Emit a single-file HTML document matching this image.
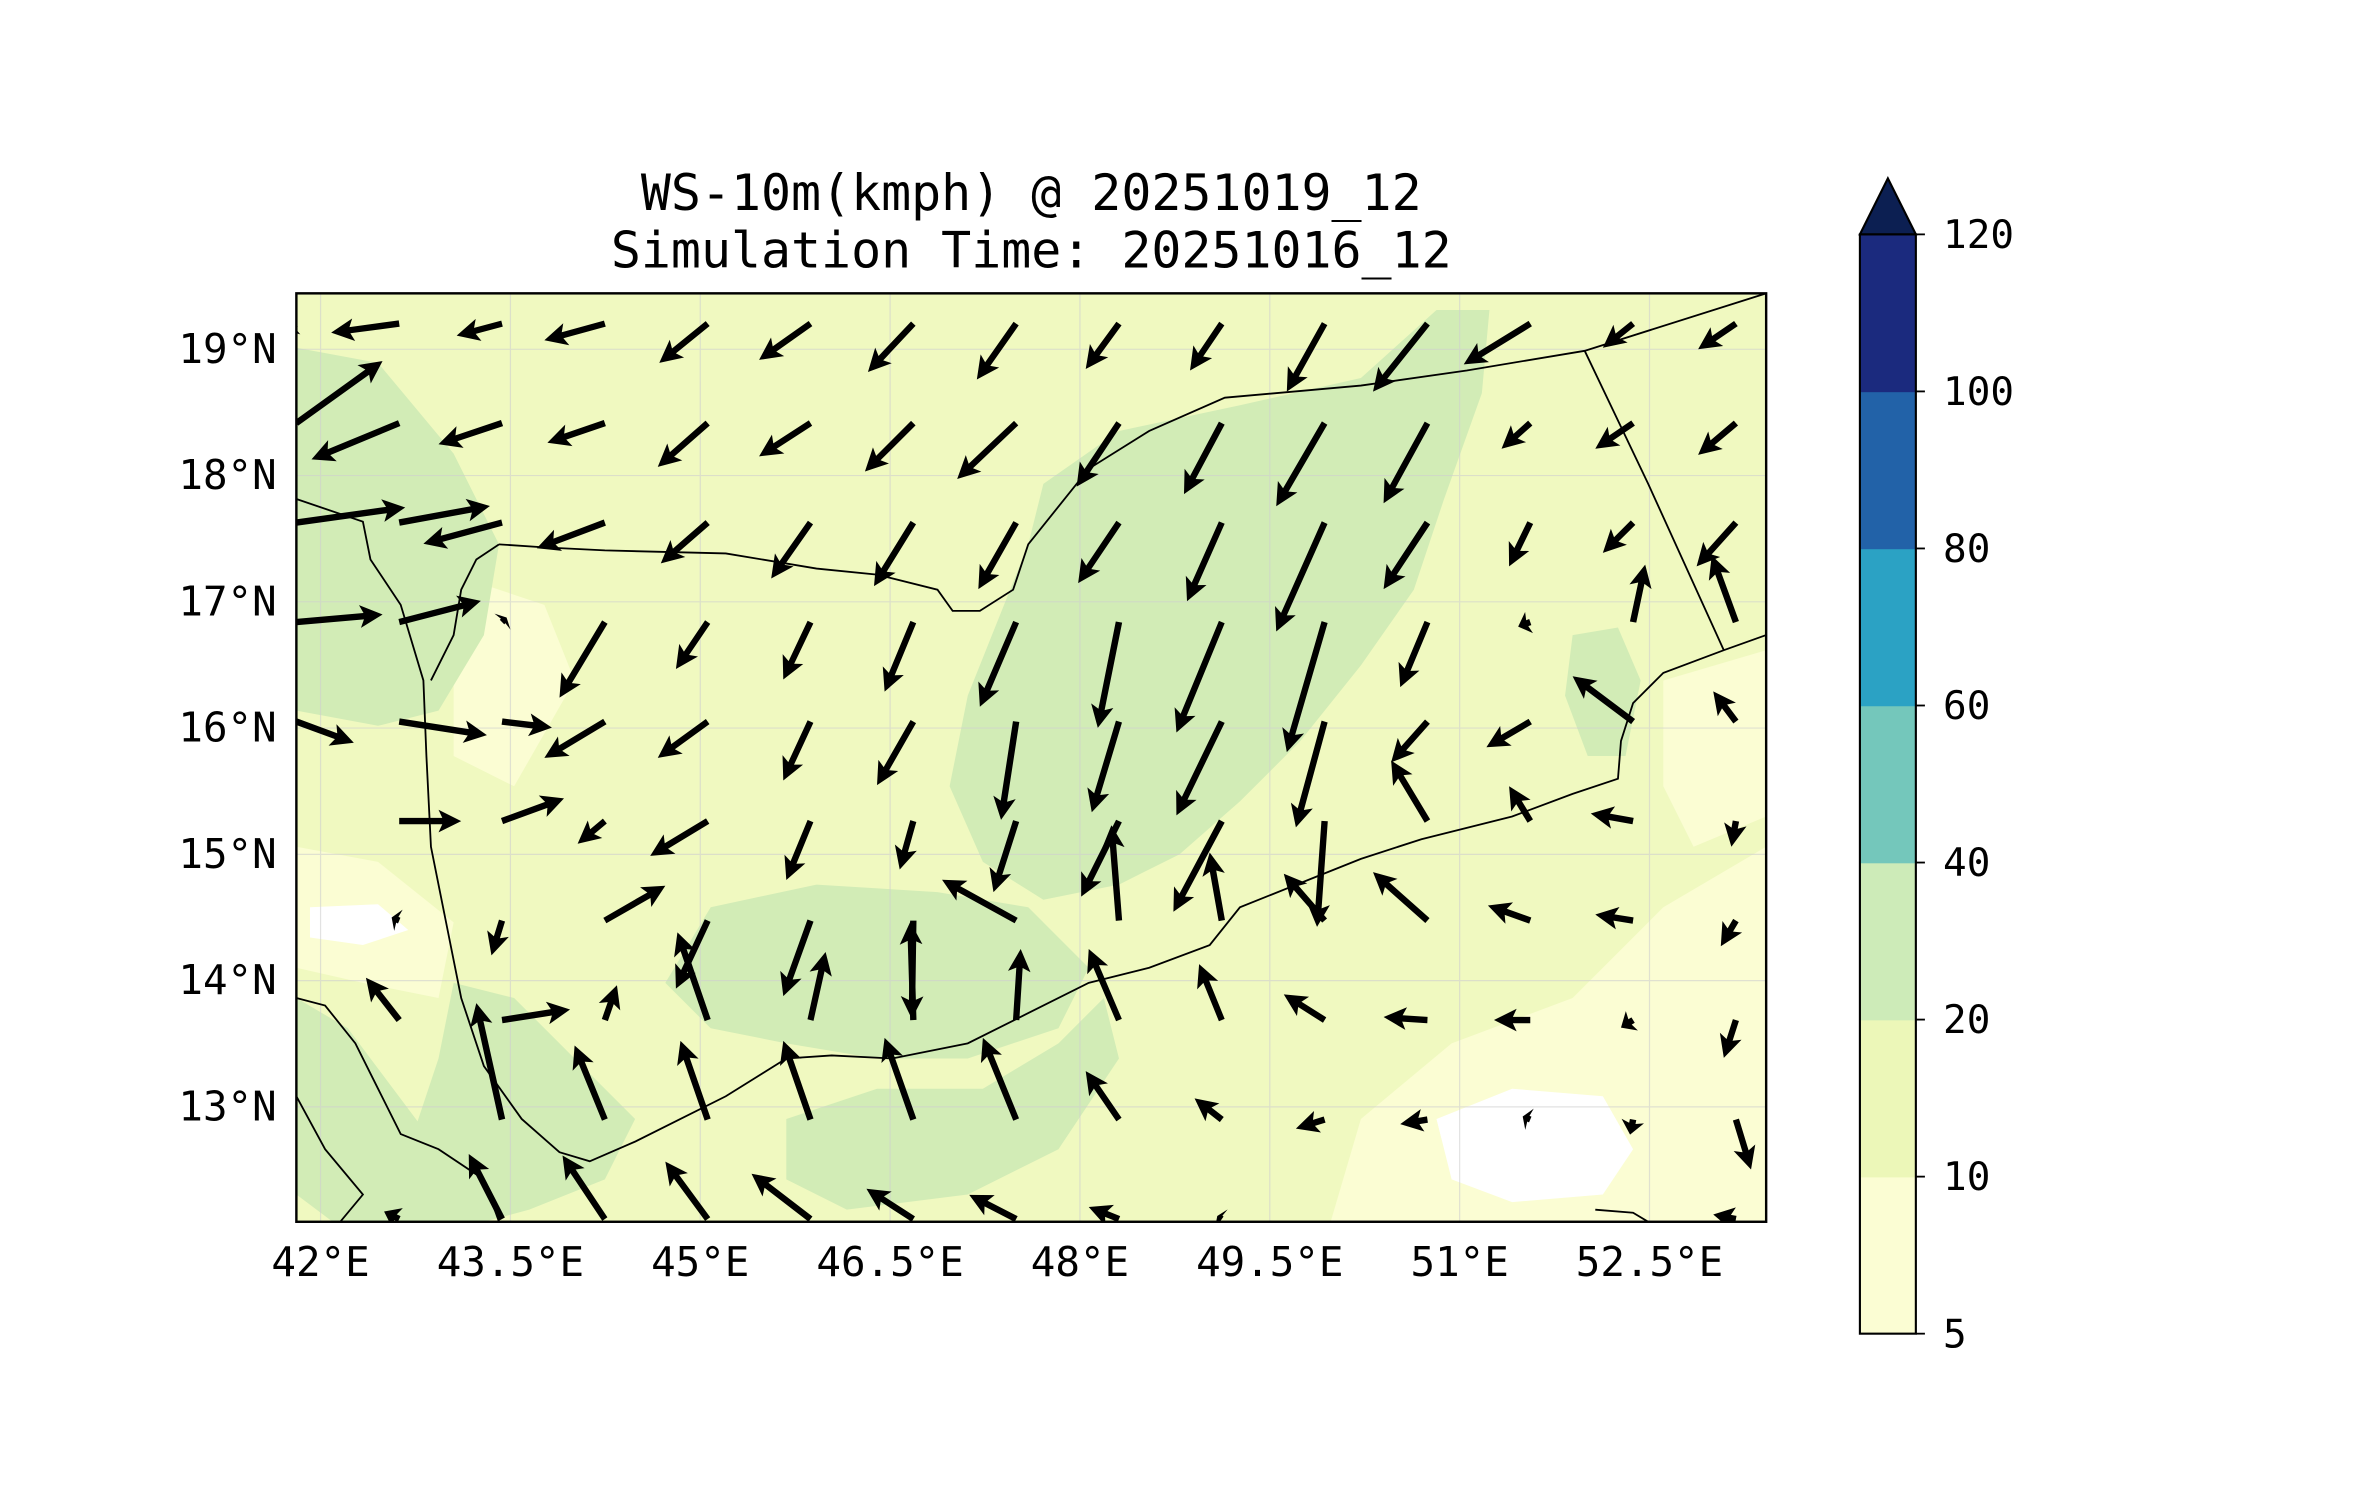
<!DOCTYPE html>
<html><head><meta charset="utf-8">
<style>
html,body{margin:0;padding:0;background:#fff;}
svg{display:block;}
text{font-family:"DejaVu Sans Mono","Liberation Mono",monospace;fill:#000;}
</style></head>
<body>
<svg id="chart" width="2371" height="1500" viewBox="0 0 1568 992" preserveAspectRatio="none" xmlns="http://www.w3.org/2000/svg">
<defs><clipPath id="mapclip"><rect x="196" y="194" width="972" height="614"/></clipPath></defs>
<text x="682" y="139" font-size="33" text-anchor="middle">WS-10m(kmph) @ 20251019_12</text>
<text x="682" y="177" font-size="33" text-anchor="middle">Simulation Time: 20251016_12</text>

<g clip-path="url(#mapclip)">
<rect x="196" y="194" width="972" height="614" fill="#f0f9c0"/>
<path fill="#fbfdd3" d="M880,808 L900,740 L960,690 L1040,660 L1100,600 L1168,560 L1168,808 Z"/>
<path fill="#fbfdd3" d="M1100,450 L1168,430 L1168,540 L1120,560 L1100,520 Z"/>
<path fill="#fbfdd3" d="M196,560 L250,570 L300,610 L290,660 L240,650 L196,640 Z"/>
<path fill="#fbfdd3" d="M300,380 L360,400 L380,450 L340,520 L300,500 Z"/>
<path fill="#ffffff" d="M950,740 L1000,720 L1060,725 L1080,760 L1060,790 L1000,795 L960,780 Z"/>
<path fill="#ffffff" d="M205,600 L250,598 L270,615 L240,625 L205,620 Z"/>
<path fill="#d2ecb6" d="M690,320 L740,285 L820,268 L900,250 L950,205 L985,205 L980,260 L955,330 L935,390 L900,440 L860,490 L820,530 L780,565 L740,585 L690,595 L650,570 L628,520 L640,460 L660,410 L680,360 Z"/>
<path fill="#d2ecb6" d="M470,600 L540,585 L620,590 L680,600 L720,640 L700,680 L640,700 L580,700 L520,690 L470,680 L440,650 Z"/>
<path fill="#d2ecb6" d="M520,740 L580,720 L650,720 L700,690 L730,660 L740,700 L700,760 L640,790 L560,800 L520,780 Z"/>
<path fill="#d2ecb6" d="M300,650 L340,660 L380,700 L420,740 L400,780 L350,800 L320,808 L290,808 L270,760 L290,700 Z"/>
<path fill="#d2ecb6" d="M196,660 L230,680 L260,720 L290,760 L300,808 L220,808 L196,790 Z"/>
<path fill="#d2ecb6" d="M196,230 L250,240 L300,300 L330,360 L320,420 L290,470 L250,480 L196,470 Z"/>
<path fill="#d2ecb6" d="M1040,420 L1070,415 L1085,450 L1075,500 L1050,500 L1035,460 Z"/>
<g id="gridlines" stroke="#cfcfcf" stroke-width="0.8" opacity="0.6"></g>
<g fill="none" stroke="#000" stroke-width="1.2">
<path d="M330,360 L360,362 L400,364 L480,366 L540,376 L580,380 L620,390 L630,404 L648,404 L670,390 L680,360 L720,310 L760,285 L810,263 L900,255 L970,245 L1048,232 L1168,194"/>
<path d="M1048,232 L1090,320 L1140,430"/>
<path d="M1168,420 L1140,430 L1100,445 L1080,465 L1072,490 L1070,515 L1040,525 L1000,540 L940,555 L900,568 L870,580 L820,600 L800,625 L760,640 L720,650 L680,670 L640,690 L590,700 L550,698 L520,700 L480,725 L450,740 L420,755 L390,768 L370,762 L345,740 L320,705 L305,660 L295,610 L285,560 L282,500 L280,450 L265,400 L245,370 L240,345 L196,330"/>
<path d="M196,660 L215,665 L235,690 L250,720 L265,750 L290,760 L320,780 L330,808"/>
<path d="M196,725 L215,760 L240,790 L225,808"/>
<path d="M330,360 L315,370 L305,390 L300,420 L285,450"/>
<path d="M1055,800 L1080,802 L1090,808"/>
</g>
<g id="quiver"></g>
</g>
<rect x="196" y="194" width="972" height="614" fill="none" stroke="#000" stroke-width="1.6"/>
<g id="axes"></g>
<g id="colorbar"></g>
</svg>
<script>
const NS='http://www.w3.org/2000/svg';
const svg=document.getElementById('chart');
const lonTicks=[42,43.5,45,46.5,48,49.5,51,52.5];
const lonTickLabels=['42°E','43.5°E','45°E','46.5°E','48°E','49.5°E','51°E','52.5°E'];
const latTicks=[13,14,15,16,17,18,19];
const latTickLabels=['13°N','14°N','15°N','16°N','17°N','18°N','19°N'];
const cbLevels=[5,10,20,40,60,80,100,120];
const cbColors=['#fbfdd3','#ecf7b8','#cdebb8','#74c7bb','#2ba2c4','#2262a8','#1b2a7e'];
const cbExtendColor='#0c1f52';
const U=[
[-8,-45,-30,-40,-32,-34,-30,-26,-22,-21,-25,-36,-44,-20,-25],
[57,-58,-42,-38,-33,-34,-32,-39,-28,-25,-32,-29,-19,-25,-25],
[72,60,-52,-45,-31,-26,-26,-25,-27,-23,-32,-29,-14,-20,-26],
[57,54,3,-30,-21,-18,-19,-24,-14,-30,-25,-18,-8,8,-16],
[38,58,33,-40,-33,-18,-24,-10,-18,-30,-19,-24,-29,-40,-15],
[-3,41,41,-18,-38,-16,-9,-15,-25,-32,-5,-24,-14,-28,-3],
[0,-5,-7,40,-21,-18,-1,-49,-5,-8,-27,-36,-28,-25,-10],
[0,-22,45,8,-20,10,-2,3,-20,-15,-27,-29,-24,-8,-8],
[-68,0,-17,-20,-18,-18,-19,-22,-22,-18,-19,-18,-5,-2,10],
[0,-10,-22,-28,-28,-39,-31,-31,-20,-3,0,0,0,0,-15]];
const V=[
[-4,-6,-8,-11,-26,-24,-32,-37,-30,-31,-45,-45,-27,-16,-17],
[41,-24,-14,-13,-29,-22,-32,-37,-42,-47,-55,-53,-17,-17,-21],
[10,11,-14,-17,-27,-37,-42,-44,-40,-52,-72,-44,-29,-20,-29],
[5,14,3,-50,-31,-38,-46,-56,-70,-73,-86,-43,-3,38,44],
[-14,-9,-4,-24,-24,-39,-42,-65,-60,-62,-70,-27,-17,30,20],
[0,0,15,-15,-23,-39,-32,-47,-50,-60,-70,40,23,5,-17],
[0,2,-23,23,-45,-50,-65,27,63,45,31,32,10,4,-17],
[0,28,7,23,58,45,65,47,47,37,17,2,0,-5,-25],
[0,0,77,49,52,52,54,54,32,14,-6,-3,2,-10,-33],
[0,5,43,42,38,30,20,16,8,2,0,0,0,0,3]];
const col0=196,colStep=68,row0=214,rowStep=65.8;
function xLon(lon){return 212+(lon-42)*83.7;}
function yLat(lat){return 231-(lat-19)*83.5;}
function mk(tag,attrs,parent){const e=document.createElementNS(NS,tag);for(const k in attrs)e.setAttribute(k,attrs[k]);parent.appendChild(e);return e;}
const gl=document.getElementById('gridlines');
lonTicks.forEach(l=>{const e=mk('line',{x1:xLon(l),x2:xLon(l),y1:194,y2:808},gl);});
latTicks.forEach(l=>{const e=mk('line',{x1:196,x2:1168,y1:yLat(l),y2:yLat(l)},gl);});
const ax=document.getElementById('axes');
lonTicks.forEach((l,i)=>{const t=mk('text',{x:xLon(l),y:844,'font-size':27,'text-anchor':'middle'},ax);t.textContent=lonTickLabels[i];

});
latTicks.forEach((l,i)=>{const t=mk('text',{x:183,y:yLat(l)+9,'font-size':27,'text-anchor':'end'},ax);t.textContent=latTickLabels[i];

});
const q=document.getElementById('quiver');
for(let r=0;r<U.length;r++)for(let c=0;c<U[r].length;c++){
 const u=U[r][c],v=V[r][c];const L=Math.hypot(u,v);if(L<1)continue;
 const x0=col0+c*colStep,y0=row0+r*rowStep;
 const ux=u/L,uy=-v/L,px=-uy,py=ux;
 const sw=2.1,hl=Math.min(15,L*0.9),hw=7.5,ha=Math.min(12.5,L*0.75);
 const xb=x0+ux*(L-ha),yb=y0+uy*(L-ha);
 const xh=x0+ux*L,yh=y0+uy*L;
 const xbb=x0+ux*(L-hl),ybb=y0+uy*(L-hl);
 const pts=[[x0+px*sw,y0+py*sw],[xb+px*sw,yb+py*sw],[xbb+px*hw,ybb+py*hw],[xh,yh],[xbb-px*hw,ybb-py*hw],[xb-px*sw,yb-py*sw],[x0-px*sw,y0-py*sw]];
 const p=mk('polygon',{points:pts.map(a=>a[0].toFixed(1)+','+a[1].toFixed(1)).join(' '),fill:'#000'},q);
 
 
}
const cb=document.getElementById('colorbar');
const cbx=1230,cbw=37,cbTop=155,cbBot=882;
const segH=(cbBot-cbTop)/(cbLevels.length-1);
function yCb(i){return cbBot-i*segH;}
cbColors.forEach((col,i)=>{const r=mk('rect',{x:cbx,y:yCb(i+1),width:cbw,height:segH+0.5,fill:col},cb);

});
const tri=mk('polygon',{points:`${cbx},${cbTop} ${cbx+cbw/2},118 ${cbx+cbw},${cbTop}`,fill:cbExtendColor,stroke:'#000','stroke-width':1.4},cb);


const fr=mk('rect',{x:cbx,y:cbTop,width:cbw,height:cbBot-cbTop,fill:'none',stroke:'#000','stroke-width':1.4},cb);


cbLevels.forEach((lv,i)=>{const y=yCb(i);mk('line',{x1:cbx+cbw,x2:cbx+cbw+6,y1:y,y2:y,stroke:'#000','stroke-width':1.2},cb);
const t=mk('text',{x:1285,y:y+9,'font-size':26},cb);t.textContent=String(lv);

});
</script>
</body></html>
